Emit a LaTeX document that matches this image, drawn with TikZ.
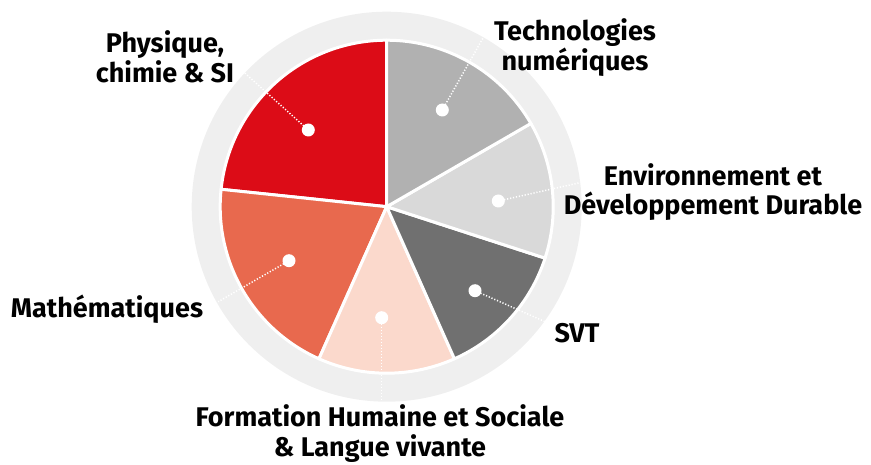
\documentclass[tikz,border=0pt]{standalone}
\usepackage{fontspec}
\setmainfont{Fira Sans}
\definecolor{ringgray}{HTML}{EFEFEF}
\definecolor{cred}{HTML}{DC0C17}
\definecolor{corange}{HTML}{E8694E}
\definecolor{cpink}{HTML}{FBD9CC}
\definecolor{cdark}{HTML}{707070}
\definecolor{clight}{HTML}{D9D9D9}
\definecolor{cmid}{HTML}{B1B1B1}
\begin{document}
\begin{tikzpicture}[x=1pt,y=1pt,
  slice/.style={draw=white,line width=3pt,line join=round},
  dotmark/.style={circle,fill=white,inner sep=0pt,minimum size=13pt},
  leader/.style={white,line width=1.5pt,dash pattern=on 1.2pt off 1.8pt},
  lbl/.style={font=\bfseries\fontsize{27}{29.5}\selectfont,align=center,inner sep=0pt,text=black}]
\useasboundingbox (0,0) rectangle (871,464);
\coordinate (C) at (386.7,257.3);
\fill[ringgray] (C) circle[radius=195];
\fill[white] (C) circle[radius=167.5];
\filldraw[slice,fill=cred] (C) -- ++(90:166.5) arc[start angle=90,end angle=174,radius=166.5] -- cycle;
\filldraw[slice,fill=corange] (C) -- ++(174:166.5) arc[start angle=174,end angle=246,radius=166.5] -- cycle;
\filldraw[slice,fill=cpink] (C) -- ++(246:166.5) arc[start angle=246,end angle=294,radius=166.5] -- cycle;
\filldraw[slice,fill=cdark] (C) -- ++(294:166.5) arc[start angle=294,end angle=342,radius=166.5] -- cycle;
\filldraw[slice,fill=clight] (C) -- ++(-18:166.5) arc[start angle=-18,end angle=30,radius=166.5] -- cycle;
\filldraw[slice,fill=cmid] (C) -- ++(30:166.5) arc[start angle=30,end angle=90,radius=166.5] -- cycle;
% dots
\node[dotmark] (dphys) at (308.3,334) {};
\node[dotmark] (dtech) at (442.3,354) {};
\node[dotmark] (denv) at (498.3,263) {};
\node[dotmark] (dsvt) at (475,173.3) {};
\node[dotmark] (dfhs) at (381.7,146.3) {};
\node[dotmark] (dmath) at (289,203.3) {};
% leader ends
\coordinate (ephys) at (243.3,392.3);
\coordinate (etech) at (483,426);
\coordinate (eenv) at (580,281.3);
\coordinate (esvt) at (545,142.3);
\coordinate (efhs) at (381.7,61);
\coordinate (emath) at (218.3,162.3);
\draw[leader] (dphys.center) -- (ephys);
\draw[leader] (dtech.center) -- (etech);
\draw[leader] (denv.center) -- (eenv);
\draw[leader] (dsvt.center) -- (esvt);
\draw[leader] (dfhs.center) -- (efhs);
\draw[leader] (dmath.center) -- (emath);
% labels
\node[lbl] (lphys) at (165,407) {Physique,\\chimie \& SI};
\node[lbl] (ltech) at (575,416.6) {Technologies\\numériques};
\node[lbl] (lenv) at (713,272) {Environnement et\\Développement Durable};
\node[lbl,anchor=base] (lmath) at (107,146) {Mathématiques};
\node[lbl,anchor=base] (lsvt) at (577,121) {SVT};
\node[lbl] (lfhs) at (380,30.3) {Formation Humaine et Sociale\\\& Langue vivante};
\end{tikzpicture}
\end{document}
